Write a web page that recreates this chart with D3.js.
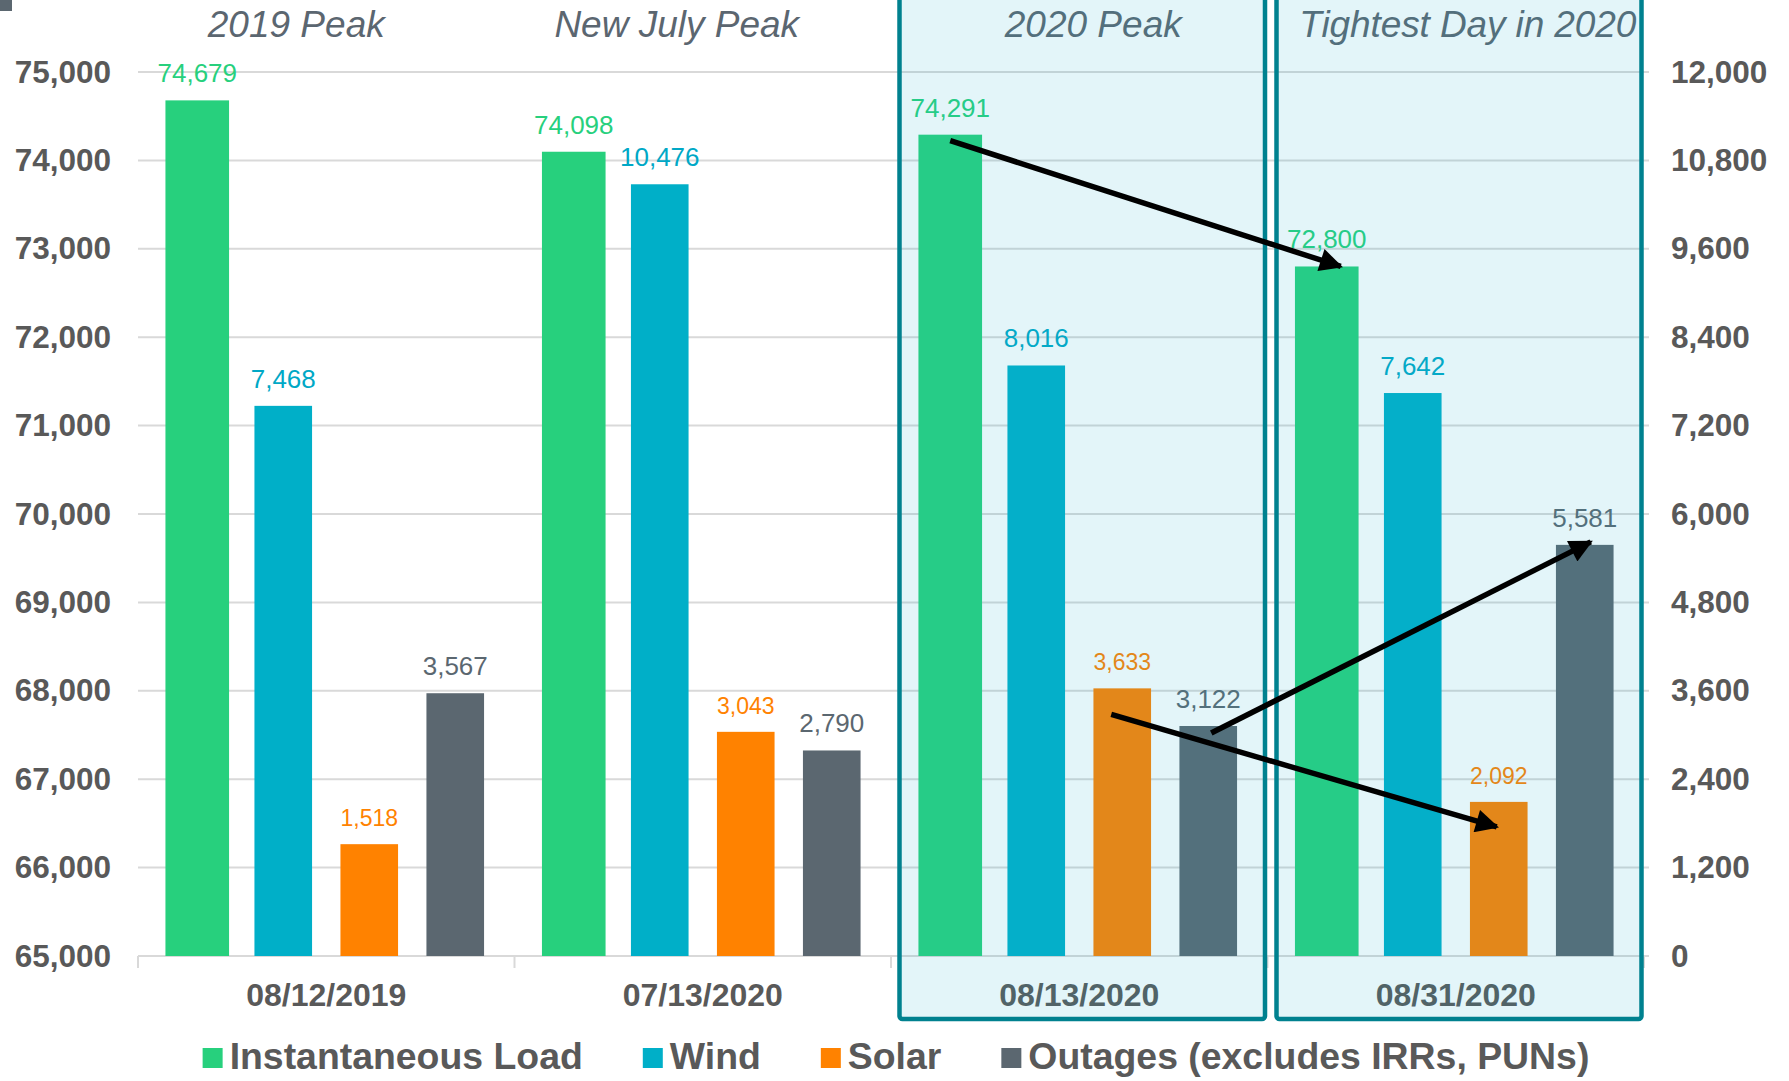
<!DOCTYPE html>
<html>
<head>
<meta charset="utf-8">
<script src="https://cdn.jsdelivr.net/npm/d3@7"></script>
<style>
  html, body { margin: 0; padding: 0; background: #ffffff; }
  svg { display: block; font-family: "Liberation Sans", Arial, sans-serif; }
</style>
</head>
<body>
<svg id="chart" width="1789" height="1081"></svg>
<script>
// ---- data ----
const dates = ["08/12/2019", "07/13/2020", "08/13/2020", "08/31/2020"];
const titles = ["2019 Peak", "New July Peak", "2020 Peak", "Tightest Day in 2020"];
const seriesNames = ["Instantaneous Load", "Wind", "Solar", "Outages (excludes IRRs, PUNs)"];
const loadValues = [74679, 74098, 74291, 72800];   // MW, left axis
const windValues = [7468, 10476, 8016, 7642];      // MW, right axis
const solarValues = [1518, 3043, 3633, 2092];      // MW, right axis
const outageValues = [3567, 2790, 3122, 5581];     // MW, right axis
const leftTicks = [65000, 66000, 67000, 68000, 69000, 70000, 71000, 72000, 73000, 74000, 75000];
const rightTicks = [0, 1200, 2400, 3600, 4800, 6000, 7200, 8400, 9600, 10800, 12000];
const highlightedDates = ["08/13/2020", "08/31/2020"];
// comparisons drawn as arrows: [date index, series index] -> [date index, series index]
const comparisons = [
  { from: [2, 0], to: [3, 0] },
  { from: [2, 3], to: [3, 3] },
  { from: [2, 2], to: [3, 2] }
];

// ---- styles ----
const barColors = ["#27d07d", "#00afc8", "#ff8200", "#5b6770"];
const labelColors = ["#27d07d", "#00a8c6", "#ff8200", "#5b6770"];
const labelSizes = [26, 26, 23, 26];
const textGray = "#595959";
const gridColor = "#d9d9d9";

const svg = d3.select("#chart");

const plotLeft = 138, plotRight = 1644, plotTop = 72, plotBottom = 956;

const x = d3.scaleBand().domain(dates).range([plotLeft, plotRight]).padding(0);
const xs = d3.scaleBand().domain(d3.range(4)).range([0, x.bandwidth()])
  .paddingInner(0.33).paddingOuter(0.354);
const yLeft = d3.scaleLinear().domain([65000, 75000]).range([plotBottom, plotTop]);
const yRight = d3.scaleLinear().domain([0, 12000]).range([plotBottom, plotTop]);

const valuesBySeries = [loadValues, windValues, solarValues, outageValues];
const scaleBySeries = [yLeft, yRight, yRight, yRight];
const fmt = d3.format(",");

// small marker square in the corner
svg.append("rect").attr("x", 0).attr("y", 0).attr("width", 12).attr("height", 11).attr("fill", "#5b6770");

// gridlines
svg.append("g").selectAll("line").data(leftTicks.slice(1)).join("line")
  .attr("x1", plotLeft).attr("x2", 1649)
  .attr("y1", d => yLeft(d)).attr("y2", d => yLeft(d))
  .attr("stroke", gridColor).attr("stroke-width", 2);

// bottom axis with category separators
const xAxis = d3.axisBottom(x).tickSize(0).tickFormat("");
const gx = svg.append("g").attr("transform", `translate(0,${plotBottom})`).call(xAxis);
gx.select(".domain").attr("stroke", gridColor).attr("stroke-width", 2)
  .attr("d", `M${plotLeft},0H1649`);
gx.selectAll(".tick").remove();
gx.selectAll("line.sep").data(d3.range(dates.length + 1)).join("line")
  .attr("class", "sep")
  .attr("x1", i => plotLeft + i * x.bandwidth()).attr("x2", i => plotLeft + i * x.bandwidth())
  .attr("y1", 0).attr("y2", 12)
  .attr("stroke", gridColor).attr("stroke-width", 2);

// left axis
const gl = svg.append("g").attr("transform", `translate(${plotLeft},0)`)
  .call(d3.axisLeft(yLeft).tickValues(leftTicks).tickSize(0).tickPadding(27).tickFormat(fmt));
gl.select(".domain").remove();
gl.selectAll("text").attr("font-size", 31.5).attr("font-weight", "bold").attr("fill", textGray)
  .attr("font-family", "Liberation Sans, Arial, sans-serif");

// right axis
const gr = svg.append("g").attr("transform", `translate(${plotRight},0)`)
  .call(d3.axisRight(yRight).tickValues(rightTicks).tickSize(0).tickPadding(27).tickFormat(fmt));
gr.select(".domain").remove();
gr.selectAll("text").attr("font-size", 31.5).attr("font-weight", "bold").attr("fill", textGray)
  .attr("font-family", "Liberation Sans, Arial, sans-serif");

// bars
function barBox(di, si) {
  const extra = si === 0 ? 3 : 0;
  const x0 = x(dates[di]) + xs(si) - extra;
  const w = xs.bandwidth() + 2 * extra;
  const yv = scaleBySeries[si](valuesBySeries[si][di]);
  return { x0, w, cx: x0 + w / 2, top: yv };
}

const cells = [];
dates.forEach((d, di) => seriesNames.forEach((s, si) => cells.push({ di, si })));

svg.append("g").selectAll("rect").data(cells).join("rect")
  .attr("x", c => barBox(c.di, c.si).x0)
  .attr("width", c => barBox(c.di, c.si).w)
  .attr("y", c => barBox(c.di, c.si).top)
  .attr("height", c => plotBottom - barBox(c.di, c.si).top)
  .attr("fill", c => barColors[c.si]);

// value labels
svg.append("g").selectAll("text").data(cells).join("text")
  .attr("x", c => barBox(c.di, c.si).cx)
  .attr("y", c => barBox(c.di, c.si).top - 18)
  .attr("text-anchor", "middle")
  .attr("font-size", c => labelSizes[c.si])
  .attr("fill", c => labelColors[c.si])
  .text(c => fmt(valuesBySeries[c.si][c.di]));

// category titles
const titleShift = [-30, -26, 14, 12];
svg.append("g").selectAll("text").data(titles).join("text")
  .attr("x", (t, i) => x(dates[i]) + x.bandwidth() / 2 + titleShift[i])
  .attr("y", 37)
  .attr("text-anchor", "middle")
  .attr("font-size", 37).attr("font-style", "italic")
  .attr("letter-spacing", (t, i) => i === 3 ? -0.1 : 0)
  .attr("fill", "#5b6670")
  .text(t => t);

// date labels
svg.append("g").selectAll("text").data(dates).join("text")
  .attr("x", d => x(d) + x.bandwidth() / 2)
  .attr("y", 1006)
  .attr("text-anchor", "middle")
  .attr("font-size", 32).attr("font-weight", "bold")
  .attr("fill", textGray)
  .text(d => d);

// highlight panels (translucent teal wash over the bars)
const panel = svg.append("g");
highlightedDates.forEach((d, k) => {
  const bx0 = x(d) + (k === 0 ? 8.5 : 9);
  const bx1 = x(d) + x.bandwidth() - 2.5;
  panel.append("rect")
    .attr("x", bx0).attr("y", -10)
    .attr("width", bx1 - bx0).attr("height", 1029)
    .attr("rx", 3)
    .attr("fill", "rgb(32,177,208)").attr("fill-opacity", 0.125)
    .attr("stroke", "#00818f").attr("stroke-width", 4.5);
});

// comparison arrows
const defs = svg.append("defs");
defs.append("marker")
  .attr("id", "head").attr("viewBox", "0 0 10 10")
  .attr("refX", 9).attr("refY", 5)
  .attr("markerWidth", 5).attr("markerHeight", 4.2)
  .attr("markerUnits", "strokeWidth")
  .attr("orient", "auto")
  .append("path").attr("d", "M0,0L10,5L0,10Z").attr("fill", "#000");

const arrowOffsets = [
  { from: [0, 6], to: [14, 0] },
  { from: [3, 7], to: [6, -3] },
  { from: [-11, 26], to: [-2, 25] }
];
svg.append("g").selectAll("line").data(comparisons).join("line")
  .attr("x1", (c, i) => barBox(c.from[0], c.from[1]).cx + arrowOffsets[i].from[0])
  .attr("y1", (c, i) => barBox(c.from[0], c.from[1]).top + arrowOffsets[i].from[1])
  .attr("x2", (c, i) => barBox(c.to[0], c.to[1]).cx + arrowOffsets[i].to[0])
  .attr("y2", (c, i) => barBox(c.to[0], c.to[1]).top + arrowOffsets[i].to[1])
  .attr("stroke", "#000").attr("stroke-width", 5.5)
  .attr("marker-end", "url(#head)");

// legend
const legend = svg.append("g");
const items = legend.selectAll("g").data(seriesNames).join("g");
items.append("rect").attr("width", 20).attr("height", 20).attr("y", 1048)
  .attr("fill", (d, i) => barColors[i]);
items.append("text").attr("x", 27).attr("y", 1069)
  .attr("font-size", 37.4).attr("font-weight", "bold").attr("fill", textGray)
  .text(d => d);
let cursor = 0;
const offsets = [];
items.each(function () {
  offsets.push(cursor);
  const tw = d3.select(this).select("text").node().getComputedTextLength();
  cursor += 27 + tw + 60;
});
const totalW = cursor - 60;
const startX = (plotLeft + plotRight) / 2 + 5 - totalW / 2;
items.attr("transform", (d, i) => `translate(${startX + offsets[i]},0)`);
</script>
</body>
</html>
